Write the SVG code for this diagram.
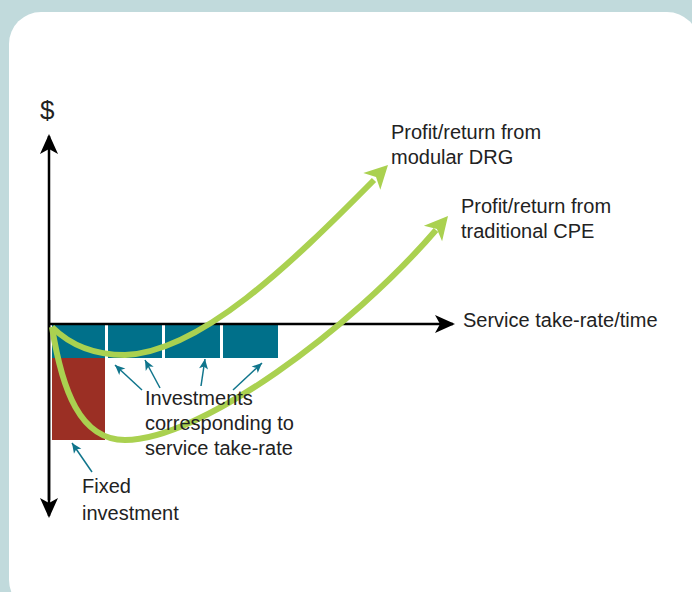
<svg xmlns="http://www.w3.org/2000/svg" width="692" height="592" viewBox="0 0 692 592">
  <style>
    .lbl { font-family: "Liberation Sans", Arial, sans-serif; font-size: 20px; fill: #222; }
    .teal { fill: #00708a; }
    .curve { fill: none; stroke: #aad150; stroke-width: 6; }
    .ghead { fill: #aad150; }
    .axis { stroke: #000; stroke-width: 2.5; fill: none; }
    .ptr { stroke: #10758c; stroke-width: 1.5; fill: none; }
  </style>
  <defs>
    <marker id="kHead" markerUnits="userSpaceOnUse" viewBox="-22 -10 23 20" refX="-2" refY="0" markerWidth="23" markerHeight="20" orient="auto">
      <path d="M0,0 L-20,-9 L-15,0 L-20,9 Z" fill="#000"/>
    </marker>
    <marker id="tHead" markerUnits="userSpaceOnUse" viewBox="-11 -5 12 10" refX="0" refY="0" markerWidth="12" markerHeight="10" orient="auto">
      <path d="M0,0 L-10,-4.5 L-7.5,0 L-10,4.5 Z" fill="#10758c"/>
    </marker>
  </defs>

  <rect x="0" y="0" width="692" height="592" fill="#c1dadc"/>
  <rect x="9" y="12" width="690" height="600" rx="32" ry="32" fill="#ffffff"/>

  <g id="investment-blocks">
    <rect class="teal" x="52" y="325" width="53" height="33"/>
    <rect class="teal" x="108" y="325" width="54" height="33"/>
    <rect class="teal" x="165" y="325" width="55" height="33"/>
    <rect class="teal" x="223" y="325" width="55" height="33"/>
    <rect x="52" y="358" width="53" height="82" fill="#9b2f24"/>
  </g>

  <g id="axes">
    <line class="axis" x1="49" y1="500" x2="49" y2="136" marker-end="url(#kHead)"/>
    <line class="axis" x1="49" y1="300" x2="49" y2="516" marker-end="url(#kHead)"/>
    <line class="axis" x1="48" y1="324" x2="453" y2="324" marker-end="url(#kHead)"/>
  </g>

  <g id="connectors">
    <path id="curve-drg" class="curve" d="M52,327 C70,345 95,355 125,355 C200,352 290,265 374,180"/>
    <polygon class="ghead" points="388,165 380.3,189.8 376,177.1 363.3,173"/>
    <path id="curve-cpe" class="curve" d="M52,327 C62,390 80,440 125,440 C200,440 350,330 436,230"/>
    <polygon class="ghead" points="448,216 442.1,241.3 436.9,228.9 423.9,225.7"/>
    <line class="ptr" x1="142" y1="390" x2="115" y2="365" marker-end="url(#tHead)"/>
    <line class="ptr" x1="160" y1="388" x2="145" y2="360" marker-end="url(#tHead)"/>
    <line class="ptr" x1="201" y1="386" x2="205" y2="359" marker-end="url(#tHead)"/>
    <line class="ptr" x1="233" y1="390" x2="262" y2="363" marker-end="url(#tHead)"/>
    <line class="ptr" x1="92" y1="472" x2="72" y2="443" marker-end="url(#tHead)"/>
  </g>

  <g id="label-dollar"><text class="lbl" x="40" y="119" style="font-size:26px">$</text></g>
  <g id="label-drg">
    <text class="lbl" x="391" y="139">Profit/return from</text>
    <text class="lbl" x="391" y="164">modular DRG</text>
  </g>
  <g id="label-cpe">
    <text class="lbl" x="461" y="213">Profit/return from</text>
    <text class="lbl" x="461" y="238">traditional CPE</text>
  </g>
  <g id="label-xaxis"><text class="lbl" x="463" y="327">Service take-rate/time</text></g>
  <g id="label-investments">
    <text class="lbl" x="145" y="405">Investments</text>
    <text class="lbl" x="145" y="430">corresponding to</text>
    <text class="lbl" x="145" y="455">service take-rate</text>
  </g>
  <g id="label-fixed">
    <text class="lbl" x="82" y="493">Fixed</text>
    <text class="lbl" x="82" y="520">investment</text>
  </g>
</svg>
